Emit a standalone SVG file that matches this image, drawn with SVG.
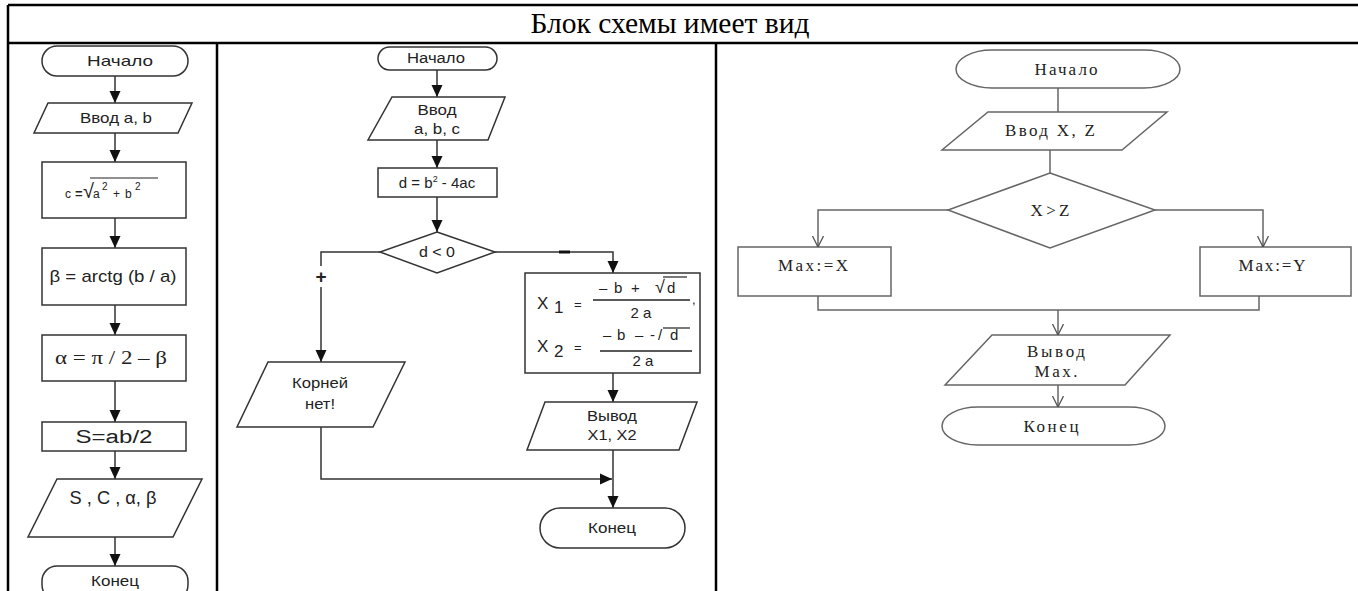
<svg xmlns="http://www.w3.org/2000/svg" width="1358" height="591" viewBox="0 0 1358 591">
<style>
.tbl{stroke:#000;stroke-width:2.5;fill:none}
.s{fill:#fff;stroke:#333;stroke-width:1.5}
.g{fill:#fff;stroke:#666;stroke-width:1.5}
.ln{fill:none;stroke:#333;stroke-width:1.5}
.lg{fill:none;stroke:#666;stroke-width:1.5}
.t{font-family:"Liberation Sans",Arial,sans-serif;font-size:14px;fill:#222;text-anchor:middle}
.f{font-family:"Liberation Sans",Arial,sans-serif;font-size:13px;fill:#222}
.r{font-family:"Liberation Serif","Times New Roman",serif;font-size:17px;fill:#222;text-anchor:middle}
.title{font-family:"Liberation Serif","Times New Roman",serif;font-size:29.5px;fill:#000;text-anchor:middle}
</style>
<defs>
<marker id="af" viewBox="0 0 12 12" refX="12" refY="6" markerWidth="12" markerHeight="12" markerUnits="userSpaceOnUse" orient="auto"><path d="M0,0.5 L12,6 L0,11.5 z" fill="#111"/></marker>
<marker id="ao" viewBox="0 0 12 12" refX="11" refY="6" markerWidth="12" markerHeight="12" markerUnits="userSpaceOnUse" orient="auto"><path d="M0,0.5 L11,6 L0,11.5" fill="none" stroke="#555" stroke-width="1.3"/><circle cx="11" cy="6" r="1.3" fill="#222"/></marker>
</defs>
<rect width="1358" height="591" fill="#fff"/>
<g id="table">
<line class="tbl" x1="8" y1="5" x2="1358" y2="5"/>
<line class="tbl" x1="8" y1="43" x2="1358" y2="43"/>
<line class="tbl" x1="8" y1="5" x2="8" y2="591"/>
<line class="tbl" x1="217" y1="43" x2="217" y2="591"/>
<line class="tbl" x1="716" y1="43" x2="716" y2="591"/>
<text class="title" x="670" y="33">Блок схемы имеет вид</text>
</g>
<g id="connectors">
<line class="ln" x1="115" y1="76" x2="115" y2="103" marker-end="url(#af)"/>
<line class="ln" x1="115" y1="133" x2="115" y2="162" marker-end="url(#af)"/>
<line class="ln" x1="115" y1="218" x2="115" y2="248" marker-end="url(#af)"/>
<line class="ln" x1="115" y1="305" x2="115" y2="335" marker-end="url(#af)"/>
<line class="ln" x1="115" y1="381" x2="115" y2="422" marker-end="url(#af)"/>
<line class="ln" x1="115" y1="451" x2="115" y2="479" marker-end="url(#af)"/>
<line class="ln" x1="115" y1="537" x2="115" y2="566" marker-end="url(#af)"/>
<line class="ln" x1="437" y1="70" x2="437" y2="97" marker-end="url(#af)"/>
<line class="ln" x1="437" y1="140" x2="437" y2="168" marker-end="url(#af)"/>
<line class="ln" x1="437" y1="197" x2="437" y2="232" marker-end="url(#af)"/>
<polyline class="ln" points="380,252 321,252 321,266"/>
<line class="ln" x1="321" y1="287" x2="321" y2="362" marker-end="url(#af)"/>
<text class="t" x="321" y="283" style="font-size:19px;font-weight:bold">+</text>
<polyline class="ln" points="495,252 613,252 613,273" marker-end="url(#af)"/>
<line x1="559" y1="252" x2="570" y2="252" stroke="#111" stroke-width="3"/>
<line class="ln" x1="613" y1="373" x2="613" y2="402" marker-end="url(#af)"/>
<line class="ln" x1="613" y1="450" x2="613" y2="508" marker-end="url(#af)"/>
<polyline class="ln" points="321,427 321,479 612,479" marker-end="url(#af)"/>
<line class="lg" x1="1058" y1="88" x2="1058" y2="112"/>
<line class="lg" x1="1050" y1="150" x2="1050" y2="173"/>
<polyline class="lg" points="948,210 818,210 818,247" marker-end="url(#ao)"/>
<polyline class="lg" points="1155,210 1263,210 1263,247" marker-end="url(#ao)"/>
<polyline class="lg" points="818,296 818,310 1259,310 1259,296"/>
<line class="lg" x1="1058" y1="310" x2="1058" y2="335" marker-end="url(#ao)"/>
<line class="lg" x1="1058" y1="385" x2="1058" y2="407" marker-end="url(#ao)"/>
</g>
<g id="c1-start"><rect class="s" x="42" y="46" width="146" height="30" rx="15"/><text class="t" x="120" y="66" style="font-size:15px" textLength="66" lengthAdjust="spacingAndGlyphs">Начало</text></g>
<g id="c1-input"><polygon class="s" points="48,103 192,103 178,133 34,133"/><text class="t" x="116" y="123" style="font-size:15px" textLength="72" lengthAdjust="spacingAndGlyphs">Ввод a, b</text></g>
<g id="c1-c"><rect class="s" x="42" y="162" width="144" height="56"/>
<text class="f" x="65" y="198" style="font-size:12px">c</text>
<text class="f" x="75" y="198" style="font-size:13px;font-weight:bold">=</text>
<text class="f" x="83" y="198" style="font-size:20px">√</text>
<line x1="90" y1="178" x2="158" y2="178" stroke="#222" stroke-width="1.2"/>
<text class="f" x="93" y="198" style="font-size:12px">a</text><text class="f" x="102" y="190" style="font-size:10px">2</text>
<text class="f" x="113" y="198" style="font-size:12px">+</text>
<text class="f" x="125" y="198" style="font-size:12px">b</text><text class="f" x="135" y="190" style="font-size:10px">2</text>
</g>
<g id="c1-beta"><rect class="s" x="42" y="248" width="144" height="57"/><text class="t" x="113" y="282" style="font-size:17px" textLength="127" lengthAdjust="spacingAndGlyphs">β = arctg (b / a)</text></g>
<g id="c1-alpha"><rect class="s" x="42" y="335" width="144" height="46"/><text class="t" x="111" y="364" style="font-family:'Liberation Serif',serif;font-size:18px" textLength="112" lengthAdjust="spacingAndGlyphs">α =  π / 2 – β</text></g>
<g id="c1-s"><rect class="s" x="42" y="422" width="144" height="29"/><text class="t" x="114" y="443" style="font-size:18px" textLength="77" lengthAdjust="spacingAndGlyphs">S=ab/2</text></g>
<g id="c1-out"><polygon class="s" points="57,479 202,479 173,537 28,537"/><text class="t" x="113" y="504" style="font-size:19px" textLength="87" lengthAdjust="spacingAndGlyphs">S , C , α, β</text></g>
<g id="c1-end"><rect class="s" x="42" y="566" width="146" height="34" rx="15"/><text class="t" x="115" y="586" style="font-size:15px" textLength="48" lengthAdjust="spacingAndGlyphs">Конец</text></g>
<g id="c2-start"><rect class="s" x="378" y="47" width="119" height="23" rx="11.5"/><text class="t" x="436" y="63" textLength="58" lengthAdjust="spacingAndGlyphs">Начало</text></g>
<g id="c2-input"><polygon class="s" points="392,97 505,97 488,140 368,140"/><text class="t" x="437" y="115" textLength="39" lengthAdjust="spacingAndGlyphs">Ввод</text><text class="t" x="437" y="134" textLength="46" lengthAdjust="spacingAndGlyphs">a, b, c</text></g>
<g id="c2-d"><rect class="s" x="378" y="168" width="119" height="29"/><text class="t" x="437" y="188" style="font-size:15px">d = b<tspan dy="-6" style="font-size:9px">2</tspan><tspan dy="6"> - 4ac</tspan></text></g>
<g id="c2-cond"><polygon class="s" points="437,232 495,252 437,273 380,252"/><text class="t" x="437" y="257" textLength="36" lengthAdjust="spacingAndGlyphs">d &lt; 0</text></g>
<g id="c2-roots"><rect class="s" x="525" y="273" width="175" height="100"/>
<text class="f" x="537" y="309" style="font-size:17px">X</text><text class="f" x="554" y="313" style="font-size:17px">1</text><text class="f" x="574" y="309" style="font-size:13px">=</text>
<text class="f" x="599" y="293" style="font-size:15px">–</text>
<text class="f" x="614" y="293" style="font-size:15px">b</text>
<text class="f" x="631" y="293" style="font-size:15px">+</text>
<text class="f" x="655" y="293" style="font-size:18px">√</text>
<line x1="663" y1="277" x2="687" y2="277" stroke="#222" stroke-width="1.2"/>
<text class="f" x="667" y="293" style="font-size:15px">d</text>
<line x1="593" y1="300" x2="690" y2="300" stroke="#222" stroke-width="1.3"/>
<text class="t" x="641" y="318" style="font-size:15px">2 a</text>
<text class="f" x="692" y="304">,</text>
<text class="f" x="537" y="352" style="font-size:17px">X</text><text class="f" x="554" y="357" style="font-size:17px">2</text><text class="f" x="574" y="352" style="font-size:13px">=</text>
<text class="f" x="603" y="340" style="font-size:15px">–</text>
<text class="f" x="617" y="340" style="font-size:15px">b</text>
<text class="f" x="635" y="340" style="font-size:15px">–</text>
<text class="f" x="650" y="340" style="font-size:15px">-</text>
<text class="f" x="658" y="340" style="font-size:15px">/</text>
<line x1="663" y1="328" x2="690" y2="328" stroke="#222" stroke-width="1.2"/>
<text class="f" x="670" y="340" style="font-size:15px">d</text>
<line x1="600" y1="351" x2="692" y2="351" stroke="#222" stroke-width="1.3"/>
<text class="t" x="643" y="366" style="font-size:15px">2 a</text>
</g>
<g id="c2-out"><polygon class="s" points="545,402 697,402 679,450 527,450"/><text class="t" x="612" y="421" textLength="50" lengthAdjust="spacingAndGlyphs">Вывод</text><text class="t" x="612" y="440" textLength="49" lengthAdjust="spacingAndGlyphs">X1, X2</text></g>
<g id="c2-noroots"><polygon class="s" points="268,362 405,362 373,427 237,427"/><text class="t" x="320" y="388" textLength="56" lengthAdjust="spacingAndGlyphs">Корней</text><text class="t" x="320" y="409" textLength="30" lengthAdjust="spacingAndGlyphs">нет!</text></g>
<g id="c2-end"><rect class="s" x="540" y="508" width="145" height="40" rx="20"/><text class="t" x="612" y="533" textLength="48" lengthAdjust="spacingAndGlyphs">Конец</text></g>
<g id="c3-start"><rect class="g" x="956" y="50" width="224" height="38" rx="36" ry="19"/><text class="r" x="1066" y="75" textLength="63">Начало</text></g>
<g id="c3-input"><polygon class="g" points="988,112 1167,112 1122,150 942,150"/><text class="r" x="1050" y="136" textLength="90">Ввод X, Z</text></g>
<g id="c3-cond"><polygon class="g" points="1050,173 1155,210 1050,248 948,210"/><text class="r" x="1050" y="216" textLength="39">X&gt;Z</text></g>
<g id="c3-maxx"><rect class="g" x="738" y="247" width="153" height="49"/><text class="r" x="813" y="271" textLength="70">Max:=X</text></g>
<g id="c3-maxy"><rect class="g" x="1200" y="247" width="151" height="49"/><text class="r" x="1272" y="271" textLength="67">Max:=Y</text></g>
<g id="c3-out"><polygon class="g" points="992,335 1170,335 1125,385 945,385"/><text class="r" x="1056" y="357" textLength="58">Вывод</text><text class="r" x="1056" y="377" textLength="43">Max.</text></g>
<g id="c3-end"><rect class="g" x="942" y="407" width="223" height="38" rx="36" ry="19"/><text class="r" x="1051" y="432" textLength="55">Конец</text></g>
</svg>
